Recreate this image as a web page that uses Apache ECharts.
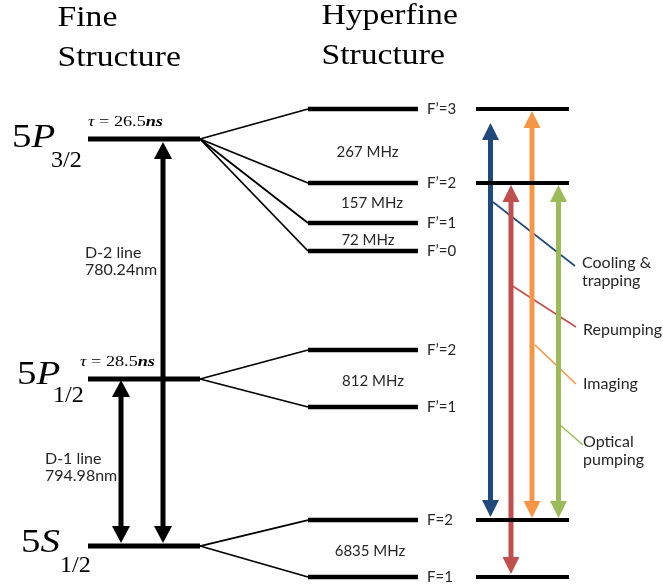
<!DOCTYPE html>
<html>
<head>
<meta charset="utf-8">
<script src="https://cdn.jsdelivr.net/npm/echarts@6/dist/echarts.min.js"></script>
<style>html,body{margin:0;padding:0;background:#fff}#chart{width:663px;height:585px}</style>
</head>
<body>
<div id="chart"></div>
<script>
// ---------------- data ----------------
const fineStates = ['5P3/2', '5P1/2', '5S1/2'];
const fineLevelY = [139, 379, 546];
const fineLifetimes = ['26.5', '28.5'];

const hyperfineLabels = ['F\u2019=3', 'F\u2019=2', 'F\u2019=1', 'F\u2019=0', 'F\u2019=2', 'F\u2019=1', 'F=2', 'F=1'];
const hyperfineLevelY = [109, 183, 223, 251, 350, 407, 520, 577];
const hyperfineParent = [0, 0, 0, 0, 1, 1, 2, 2];

const splittingLabels = ['267 MHz', '157 MHz', '72 MHz', '812 MHz', '6835 MHz'];

const transitionNames = ['D-2 line\n780.24nm', 'D-1 line\n794.98nm'];
const transitionUpperY = [142, 380];
const transitionLowerY = [543, 543];

const laserNames = ['Cooling &\ntrapping', 'Repumping', 'Imaging', 'Optical\npumping'];
const laserLevelY = [109, 183, 520, 577];
const laserUpperY = [123, 185, 111, 185];
const laserLowerY = [517, 574, 518, 518];

// ---------------- layout & style ----------------
const X_FINE = [88, 200];
const X_HYPER = [308, 418];
const X_LASER = [476, 569];
const transitionX = [163, 121];
const transitionLabelPos = [[85, 252.5], [45, 459]];
const laserX = [490.5, 511, 532, 558.5];
const laserColors = ['#1F497D', '#C0504D', '#F79646', '#9BBB59'];
const pointerFrom = [[493, 202], [511, 285], [535, 345], [560, 425]];
const pointerTo = [[575, 266], [576, 327], [576, 384], [583, 445]];
const laserLabelPos = [[582, 263], [583, 330], [583, 384], [583, 442]];
const splittingPos = [[367.5, 152], [372, 203], [368, 240.5], [373, 381], [370, 551]];
const hyperLabelX = 427;
const statePos = [[12, 137.9, 51, 161.3], [17, 374.9, 53, 396.3], [21, 542.9, 60, 566.3]];
const tauPos = [[88, 122.5], [80, 362.5]];

const SERIF = "'Liberation Serif', 'Times New Roman', serif";
const SANS = "Lato, 'Open Sans', sans-serif";
const TXT = '#262626';

// ---------------- build series data ----------------
const fineLevelData = fineLevelY.map(y => [X_FINE[0], y, X_FINE[1], y]);
const hyperLevelData = hyperfineLevelY.map(y => [X_HYPER[0], y, X_HYPER[1], y]);
const laserLevelData = laserLevelY.map(y => [X_LASER[0], y, X_LASER[1], y]);
const connectorData = hyperfineLevelY.map((y, i) => [X_FINE[1], fineLevelY[hyperfineParent[i]], X_HYPER[0], y]);
const pointerData = pointerFrom.map((p, i) => [p[0], p[1], pointerTo[i][0], pointerTo[i][1]]);
const transitionData = transitionX.map((x, i) => [x, transitionUpperY[i], transitionLowerY[i]]);
const laserData = laserX.map((x, i) => [x, laserUpperY[i], laserLowerY[i]]);
const hyperLabelData = hyperfineLevelY.map((y, i) => [hyperLabelX, y, hyperfineLabels[i]]);
const splitLabelData = splittingPos.map((p, i) => [p[0], p[1], splittingLabels[i]]);
const transLabelData = transitionLabelPos.map((p, i) => [p[0], p[1], transitionNames[i]]);
const laserLabelData = laserLabelPos.map((p, i) => [p[0], p[1], laserNames[i]]);

function segmentSeries(name, data, width, colorFn, z) {
  return {
    type: 'custom', name, data, z, clip: false, silent: true,
    encode: { x: [0, 2], y: [1, 3] },
    renderItem: function (params, api) {
      const a = api.coord([api.value(0), api.value(1)]);
      const b = api.coord([api.value(2), api.value(3)]);
      return {
        type: 'line',
        shape: { x1: a[0], y1: a[1], x2: b[0], y2: b[1] },
        style: { stroke: colorFn(params.dataIndex), lineWidth: width, lineCap: 'butt' }
      };
    }
  };
}

function arrowSeries(name, data, colorFn, shaftW, headW, headL, z) {
  return {
    type: 'custom', name, data, z, clip: false, silent: true,
    encode: { x: 0, y: [1, 2] },
    renderItem: function (params, api) {
      const t = api.coord([api.value(0), api.value(1)]);
      const b = api.coord([api.value(0), api.value(2)]);
      const c = colorFn(params.dataIndex);
      const hw = headW / 2;
      return {
        type: 'group',
        children: [
          { type: 'line', shape: { x1: t[0], y1: t[1] + headL - 1, x2: b[0], y2: b[1] - headL + 1 },
            style: { stroke: c, lineWidth: shaftW } },
          { type: 'polygon', shape: { points: [[t[0], t[1]], [t[0] - hw, t[1] + headL], [t[0] + hw, t[1] + headL]] },
            style: { fill: c } },
          { type: 'polygon', shape: { points: [[b[0], b[1]], [b[0] - hw, b[1] - headL], [b[0] + hw, b[1] - headL]] },
            style: { fill: c } }
        ]
      };
    }
  };
}

function textSeries(name, data, font, align, lineHeight, z) {
  return {
    type: 'custom', name, data, z, clip: false, silent: true,
    encode: { x: 0, y: 1 },
    renderItem: function (params, api) {
      const p = api.coord([api.value(0), api.value(1)]);
      const lines = String(data[params.dataIndex][2]).split('\n');
      return {
        type: 'text', x: p[0], y: p[1] + (lines.length - 1) * lineHeight / 2,
        style: { text: lines.join('\n'), font, fill: TXT, align, verticalAlign: 'middle', lineHeight }
      };
    }
  };
}

// ---------------- graphic text (titles, term symbols, lifetimes) ----------------
const graphics = [];
function addText(x, y, text, font, scaleX) {
  graphics.push({ type: 'text', x, y, scaleX: scaleX || 1, silent: true,
    style: { text, font, fill: '#000', align: 'left', verticalAlign: 'middle' } });
}
addText(57.5, 18.2, 'Fine', '29px ' + SERIF, 1.16);
addText(57.5, 58.7, 'Structure', '29px ' + SERIF, 1.16);
addText(321.5, 16.2, 'Hyperfine', '29px ' + SERIF, 1.16);
addText(321.5, 56.7, 'Structure', '29px ' + SERIF, 1.16);

fineStates.forEach((s, i) => {
  const num = s.charAt(0), letter = s.charAt(1), sub = s.slice(2);
  const p = statePos[i];
  graphics.push({ type: 'text', x: p[0], y: p[1], scaleX: 1.18, silent: true,
    style: { text: '{n|' + num + '}{l|' + letter + '}', fill: '#000', align: 'left', verticalAlign: 'middle',
      rich: { n: { font: '33px ' + SERIF, fill: '#000' }, l: { font: 'italic 33px ' + SERIF, fill: '#000' } } } });
  addText(p[2], p[3], sub, '23px ' + SERIF, 1.05);
});

fineLifetimes.forEach((v, i) => {
  const p = tauPos[i];
  graphics.push({ type: 'text', x: p[0], y: p[1], scaleX: 1.3, silent: true,
    style: { text: '{t|\u03C4} = ' + v + '{b|ns}', font: '14px ' + SERIF, fill: '#000', align: 'left', verticalAlign: 'middle',
      rich: { t: { font: 'italic 14px ' + SERIF, fill: '#000' }, b: { font: 'italic bold 14px ' + SERIF, fill: '#000' } } } });
});

// ---------------- chart ----------------
const chart = echarts.init(document.getElementById('chart'), null, { renderer: 'canvas' });
chart.setOption({
  animation: false,
  backgroundColor: '#fff',
  grid: { left: 0, right: 0, top: 0, bottom: 0 },
  xAxis: { type: 'value', min: 0, max: 663, show: false },
  yAxis: { type: 'value', min: 0, max: 585, inverse: true, show: false },
  graphic: { elements: graphics },
  series: [
    segmentSeries('connectors', connectorData, 1.8, () => '#000', 2),
    segmentSeries('pointers', pointerData, 1.6, i => laserColors[i], 2),
    arrowSeries('D lines', transitionData, () => '#000', 5, 18, 17, 3),
    arrowSeries('lasers', laserData, i => laserColors[i], 5, 17, 17, 3),
    segmentSeries('fine levels', fineLevelData, 5, () => '#000', 4),
    segmentSeries('hyperfine levels', hyperLevelData, 4.5, () => '#000', 4),
    segmentSeries('laser levels', laserLevelData, 4, () => '#000', 4),
    textSeries('hyperfine labels', hyperLabelData, '15px ' + SANS, 'left', 18, 5),
    textSeries('splittings', splitLabelData, '15px ' + SANS, 'center', 18, 5),
    textSeries('transition labels', transLabelData, '16px ' + SANS, 'left', 17, 5),
    textSeries('laser labels', laserLabelData, '16px ' + SANS, 'left', 18, 5)
  ]
});
</script>
</body>
</html>
